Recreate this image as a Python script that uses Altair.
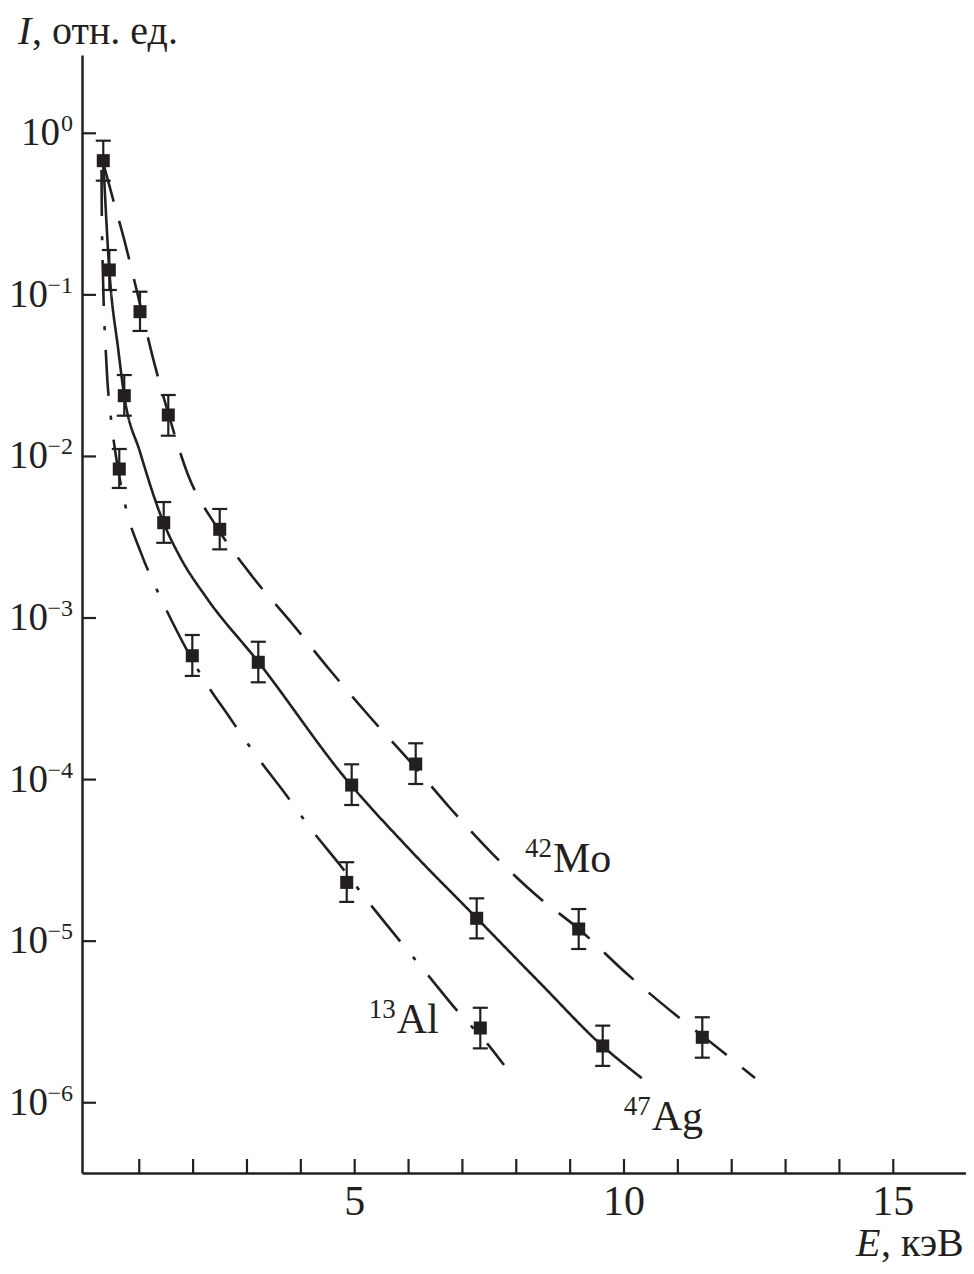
import altair as alt
import pandas as pd

INK = "#231f20"
FONT = "Liberation Serif"

# ---- fitted curves ----
ag_E = [0.332, 0.444, 0.611, 0.722, 1.014, 1.454, 1.756, 2.252, 3.210, 4.852, 5.995, 7.265, 8.441, 9.605, 10.329]
ag_I = [0.677, 0.1426, 0.0456, 0.02366, 0.01065, 0.00387, 0.00239, 0.00133, 5.35e-4, 9.94e-5, 3.77e-5, 1.39e-5, 5.51e-6, 2.24e-6, 1.42e-6]

mo_E = [0.332, 0.518, 0.717, 0.982, 1.250, 1.521, 1.899, 2.438, 3.106, 3.830, 4.554, 5.284, 6.088, 6.770, 7.544, 8.366, 9.159, 10.080, 10.916, 11.814, 12.432]
mo_I = [0.655, 0.386, 0.222, 0.097, 0.0412, 0.01938, 0.00779, 0.00366, 0.001795, 9.31e-4, 4.70e-4, 2.44e-4, 1.23e-4, 6.67e-5, 3.51e-5, 1.93e-5, 1.19e-5, 6.17e-6, 3.59e-6, 2.09e-6, 1.42e-6]

al_E = [0.299, 0.308, 0.395, 0.470, 0.550, 0.748, 1.032, 1.417, 1.756, 2.170, 2.672, 3.149, 3.687, 4.189, 4.727, 5.253, 5.810, 6.343, 6.924, 7.481, 7.772]
al_I = [0.593, 0.252, 0.0353, 0.0178, 0.01096, 0.00486, 0.00253, 0.00129, 7.63e-4, 4.31e-4, 2.44e-4, 1.44e-4, 8.38e-5, 4.94e-5, 2.96e-5, 1.75e-5, 1.03e-5, 6.27e-6, 3.64e-6, 2.28e-6, 1.71e-6]

# ---- measured points with error bars ----
pt_E = [0.332, 0.444, 0.722, 1.454, 3.210, 4.944, 7.265, 9.605,
        1.014, 1.539, 2.494, 6.133, 9.159, 11.454,
        0.629, 1.985, 4.852, 7.332]
pt_I = [0.677, 0.1426, 0.02377, 0.00389, 5.32e-4, 9.25e-5, 1.385e-5, 2.245e-6,
        0.0787, 0.01805, 0.00354, 1.248e-4, 1.189e-5, 2.54e-6,
        0.00836, 5.84e-4, 2.31e-5, 2.90e-6]
pt_lo = [0.509, 0.1072, 0.01787, 0.00292, 4.00e-4, 6.96e-5, 1.04e-5, 1.69e-6,
         0.0598, 0.01344, 0.00266, 9.39e-5, 8.94e-6, 1.90e-6,
         0.00638, 4.38e-4, 1.75e-5, 2.17e-6]
pt_hi = [0.90, 0.1895, 0.0319, 0.00522, 7.13e-4, 1.243e-4, 1.84e-5, 3.00e-6,
         0.1046, 0.0240, 0.00473, 1.677e-4, 1.58e-5, 3.38e-6,
         0.01112, 7.85e-4, 3.08e-5, 3.87e-6]

# ---- labels ----
lab_name = ["Mo", "Al", "Ag"]
lab_mass = ["42", "13", "47"]
lab_E = [8.68, 5.78, 10.514]
lab_I = [2.69e-5, 2.71e-6, 6.78e-7]

x_ticks = list(range(1, 16))
x_tick_labels = ["5", "10", "15"]
x_tick_label_vals = [5, 10, 15]
y_exps = [0, -1, -2, -3, -4, -5, -6]

W, H = 884, 1118

xscale = alt.Scale(domain=[-0.063, 16.35], nice=False, zero=False)
yscale = alt.Scale(type="log", domain=[3.673e-7, 3.052], nice=False)
xaxis = alt.Axis(labels=False, ticks=False, grid=False, title=None,
                 domainColor=INK, domainWidth=2.5)
yaxis = alt.Axis(labels=False, ticks=False, grid=False, title=None,
                 domainColor=INK, domainWidth=2.5)


def X(f):
    return alt.X(f, type="quantitative", scale=xscale, axis=xaxis)


def Y(f):
    return alt.Y(f, type="quantitative", scale=yscale, axis=yaxis)


def curve(E, I, dash):
    df = pd.DataFrame({"E": E, "I": I})
    return alt.Chart(df).mark_line(interpolate="monotone", strokeWidth=2.6,
                                   color=INK, strokeDash=dash).encode(x=X("E"), y=Y("I"))


ag = curve(ag_E, ag_I, [1, 0])
mo = curve(mo_E, mo_I, [40, 20])
al = curve(al_E, al_I, [46, 20, 4, 20])

pts = pd.DataFrame({"E": pt_E, "I": pt_I, "lo": pt_lo, "hi": pt_hi})
base_pts = alt.Chart(pts)
err = base_pts.mark_rule(strokeWidth=2.2, color=INK).encode(x=X("E"), y=Y("lo"), y2="hi")
cap_lo = base_pts.mark_tick(orient="horizontal", size=15, thickness=2.2, color=INK, opacity=1).encode(x=X("E"), y=Y("lo"))
cap_hi = base_pts.mark_tick(orient="horizontal", size=15, thickness=2.2, color=INK, opacity=1).encode(x=X("E"), y=Y("hi"))
sq = base_pts.mark_square(size=170, color=INK, opacity=1, filled=True).encode(x=X("E"), y=Y("I"))

# inward ticks
xt = alt.Chart(pd.DataFrame({"t": x_ticks})).mark_rule(strokeWidth=2.2, color=INK).encode(
    x=X("t"), y=alt.value(H), y2=alt.value(H - 14))
yt_base = alt.Chart(pd.DataFrame({"e": y_exps})).transform_calculate(
    v="pow(10, datum.e)", ex="datum.e == 0 ? '0' : '\u2212' + (-datum.e)")
yt = yt_base.mark_rule(strokeWidth=2.2, color=INK).encode(
    y=Y("v"), x=alt.value(0), x2=alt.value(14))

# y tick labels 10^e
ten0 = yt_base.transform_filter("datum.e == 0").mark_text(
    align="right", baseline="alphabetic", dy=12, fontSize=39, font=FONT, color=INK).encode(
    y=Y("v"), x=alt.value(-22), text=alt.value("10"))
tenN = yt_base.transform_filter("datum.e < 0").mark_text(
    align="right", baseline="alphabetic", dy=12, fontSize=39, font=FONT, color=INK).encode(
    y=Y("v"), x=alt.value(-34), text=alt.value("10"))
expo = yt_base.mark_text(
    align="right", baseline="alphabetic", dy=-2, fontSize=24, font=FONT, color=INK).encode(
    y=Y("v"), x=alt.value(-9), text="ex:N")

# x tick labels
xl = alt.Chart(pd.DataFrame({"E": x_tick_label_vals, "lab": x_tick_labels})).mark_text(
    align="center", baseline="alphabetic", fontSize=42, font=FONT, color=INK).encode(
    x=X("E"), y=alt.value(H + 42), text="lab:N")

# curve labels
labs = pd.DataFrame({"E": lab_E, "I": lab_I, "name": lab_name, "mass": lab_mass})
lab_main = alt.Chart(labs).mark_text(align="left", baseline="alphabetic", fontSize=42,
                                     font=FONT, color=INK).encode(x=X("E"), y=Y("I"), text="name:N")
lab_sup = alt.Chart(labs).mark_text(align="right", baseline="alphabetic", fontSize=27, dx=-1, dy=-15,
                                    font=FONT, color=INK).encode(x=X("E"), y=Y("I"), text="mass:N")

# axis titles
t_df = pd.DataFrame({"a": ["I"], "b": [", отн. ед."], "c": ["E"], "d": [", кэВ"]})
tb = alt.Chart(t_df)
ty1 = tb.mark_text(align="left", baseline="alphabetic", fontSize=40, font=FONT, fontStyle="italic",
                   color=INK).encode(x=alt.value(-64), y=alt.value(-11), text="a:N")
ty2 = tb.mark_text(align="left", baseline="alphabetic", fontSize=40, font=FONT,
                   color=INK).encode(x=alt.value(-50), y=alt.value(-11), text="b:N")
tx1 = tb.mark_text(align="left", baseline="alphabetic", fontSize=40, font=FONT, fontStyle="italic",
                   color=INK).encode(x=alt.value(774), y=alt.value(1201), text="c:N")
tx2 = tb.mark_text(align="left", baseline="alphabetic", fontSize=40, font=FONT,
                   color=INK).encode(x=alt.value(799), y=alt.value(1201), text="d:N")

chart = alt.layer(
    ag, mo, al, err, cap_lo, cap_hi, sq, xt, yt, ten0, tenN, expo, xl,
    lab_main, lab_sup, ty1, ty2, tx1, tx2
).properties(
    width=W, height=H,
    padding={"left": 74, "top": 47, "right": 0, "bottom": 93},
    autosize=alt.AutoSizeParams(type="none"),
    background="white",
).configure_view(stroke=None)

chart.save("out.html", embed_options={"renderer": "svg", "actions": False})
